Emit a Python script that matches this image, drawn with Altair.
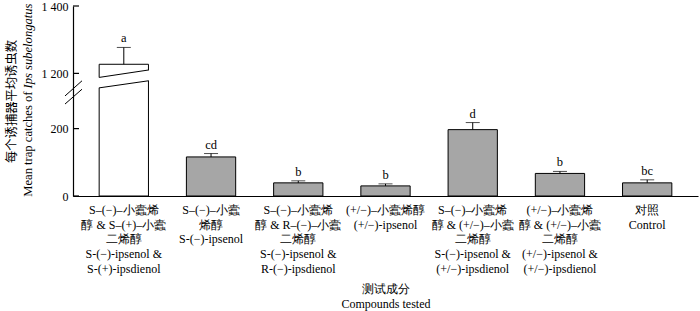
import altair as alt
import pandas as pd

# ---------------- data ----------------
categories = ["C1", "C2", "C3", "C4", "C5", "C6", "C7"]
labels_cn = [
    "S–(−)–小蠹烯|醇 & S–(+)–小蠹|二烯醇",
    "S–(−)–小蠹|烯醇",
    "S–(−)–小蠹烯|醇 & R–(−)–小蠹|二烯醇",
    "(+/−)–小蠹烯醇",
    "S–(−)–小蠹烯|醇 & (+/−)–小蠹|二烯醇",
    "(+/−)–小蠹烯|醇 & (+/−)–小蠹|二烯醇",
    "对照",
]
labels_en = [
    "S-(−)-ipsenol &|S-(+)-ipsdienol",
    "S-(−)-ipsenol",
    "S-(−)-ipsenol &|R-(−)-ipsdienol",
    "(+/−)-ipsenol",
    "S-(−)-ipsenol &|(+/−)-ipsdienol",
    "(+/−)-ipsenol &|(+/−)-ipsdienol",
    "Control",
]
means = [1227, 116, 39, 30, 197, 67, 39]
ses = [50, 10, 6, 6, 21, 6, 9]
letters = ["a", "cd", "b", "b", "d", "b", "bc"]
fills = ["#ffffff", "#a6a6a6", "#a6a6a6", "#a6a6a6", "#a6a6a6", "#a6a6a6", "#a6a6a6"]

y_tick_values = [0, 200, 1200, 1400]
y_tick_labels = ["0", "200", "1 200", "1 400"]

# broken axis: values above BREAK_FROM are drawn shifted down by BREAK_SHIFT
BREAK_FROM = 300
BREAK_SHIFT = 836

# break decoration of the first bar (display units): left / right ends
bar_break_lines = {"y_l": [352, 321], "y_r": [374, 342]}
bar_break_gap = {"y_l": [337], "y_r": [358]}
# axis break marks (display units)
axis_break = {"y1": [297, 273], "y2": [342, 317]}

x_title = ["测试成分", "Compounds tested"]
y_title_cn = "每个诱捕器平均诱虫数"
y_title_en = "Mean trap catches of"
y_title_it = "Ips subelongatus"

LINE_H = 14.7
LABEL_TOP = 199  # pixels below plot top where tick labels start


def disp(v):
    return v if v < BREAK_FROM else v - BREAK_SHIFT


df = pd.DataFrame({
    "cat": categories,
    "cn": labels_cn,
    "en": labels_en,
    "mean": means,
    "se": ses,
    "letter": letters,
    "fill": fills,
})
df["d"] = [disp(v) for v in df["mean"]]
df["dtop"] = [disp(m + s) for m, s in zip(df["mean"], df["se"])]
df["y_en"] = [LABEL_TOP + LINE_H * len(s.split("|")) for s in df["cn"]]

tick_disp = [disp(v) for v in y_tick_values]
ticks_df = pd.DataFrame({"d": tick_disp})
label_expr = " : ".join(
    [f"datum.value == {d} ? '{l}'" for d, l in zip(tick_disp, y_tick_labels)] + ["''"]
)

SERIF = "Liberation Serif"
CJK = "Noto Sans CJK SC"

xscale = alt.Scale(paddingInner=0.435, paddingOuter=0.3)
yscale = alt.Scale(domain=[0, disp(1400)], nice=False, zero=True)

xaxis = alt.Axis(
    labels=False,
    ticks=False,
    tickSize=0,
    domainColor="black",
    domainWidth=1.2,
    title=x_title,
    titleFont=SERIF,
    titleFontSize=12,
    titleFontWeight="normal",
    titleColor="black",
    titleLineHeight=15.5,
    titleBaseline="top",
    titleY=87,
)
yaxis = alt.Axis(
    values=tick_disp,
    labelExpr=label_expr,
    labelFont=SERIF,
    labelFontSize=12,
    labelColor="black",
    labelPadding=5,
    ticks=False,
    tickSize=0,
    grid=False,
    domainColor="black",
    domainWidth=1.2,
    title=None,
)


def X(**kw):
    return alt.X("cat:N", sort=categories, scale=xscale, axis=xaxis, **kw)


def Y(field):
    return alt.Y(f"{field}:Q", scale=yscale, axis=yaxis)


base = alt.Chart(df)

bars = base.mark_bar(stroke="black", strokeWidth=1).encode(
    x=X(), y=Y("d"), fill=alt.Fill("fill:N", scale=None)
)

gap = alt.Chart(pd.DataFrame({"cat": [categories[0]], **bar_break_gap})).mark_rule(
    color="white", strokeWidth=10, strokeCap="square"
).encode(
    x=X(bandPosition=0),
    x2=alt.X2("cat", bandPosition=1),
    y=Y("y_l"),
    y2="y_r",
)

brk = alt.Chart(pd.DataFrame({"cat": [categories[0]] * 2, **bar_break_lines})).mark_rule(
    color="black", strokeWidth=1
).encode(
    x=X(bandPosition=0),
    x2=alt.X2("cat", bandPosition=1),
    y=Y("y_l"),
    y2="y_r",
)

err = base.mark_rule(color="black", strokeWidth=1).encode(x=X(), y=Y("d"), y2="dtop")
caps = base.mark_tick(color="black", size=14, thickness=1).encode(x=X(), y=Y("dtop"))
txt = base.mark_text(
    font=SERIF, fontSize=12.5, color="black", baseline="alphabetic", dy=-5
).encode(x=X(), y=Y("dtop"), text="letter:N")

lab_cn = base.mark_text(
    font=SERIF, fontSize=12, color="black", baseline="top", lineBreak="|", lineHeight=LINE_H
).encode(x=X(), y=alt.value(LABEL_TOP), text="cn:N")
lab_en = base.mark_text(
    font=SERIF, fontSize=12, color="black", baseline="top", lineBreak="|", lineHeight=LINE_H
).encode(x=X(), y=alt.Y("y_en:Q", scale=None), text="en:N")

yticks = alt.Chart(ticks_df).mark_rule(color="black", strokeWidth=1.2).encode(
    y=Y("d"), x=alt.value(0), x2=alt.value(6)
)

axbrk = alt.Chart(pd.DataFrame(axis_break)).mark_rule(color="black", strokeWidth=1).encode(
    y=Y("y1"), y2="y2", x=alt.value(-8), x2=alt.value(9)
)

one = pd.DataFrame({"t": [0]})
t_cn = alt.Chart(one).mark_text(
    text=y_title_cn, font=CJK, fontSize=12.3, angle=270, baseline="middle", align="center", color="black"
).encode(x=alt.value(-61), y=alt.value(95.5))
t_en = alt.Chart(one).mark_text(
    text=y_title_en, font=SERIF, fontSize=12.6, angle=270, baseline="middle", align="right", color="black"
).encode(x=alt.value(-45), y=alt.value(85.5))
t_it = alt.Chart(one).mark_text(
    text=y_title_it, font=SERIF, fontSize=12.6, fontStyle="italic", angle=270,
    baseline="middle", align="left", dx=3, color="black"
).encode(x=alt.value(-45), y=alt.value(85.5))

chart = alt.layer(
    bars, gap, brk, err, caps, txt, lab_cn, lab_en, yticks, axbrk, t_cn, t_en, t_it
).properties(
    width=625,
    height=190,
    padding={"left": 73, "top": 6, "right": 2, "bottom": 115},
    autosize=alt.AutoSizeParams(type="none"),
    background="white",
).configure_view(stroke=None)

chart.save("out.html", embed_options={"renderer": "svg", "actions": False})
